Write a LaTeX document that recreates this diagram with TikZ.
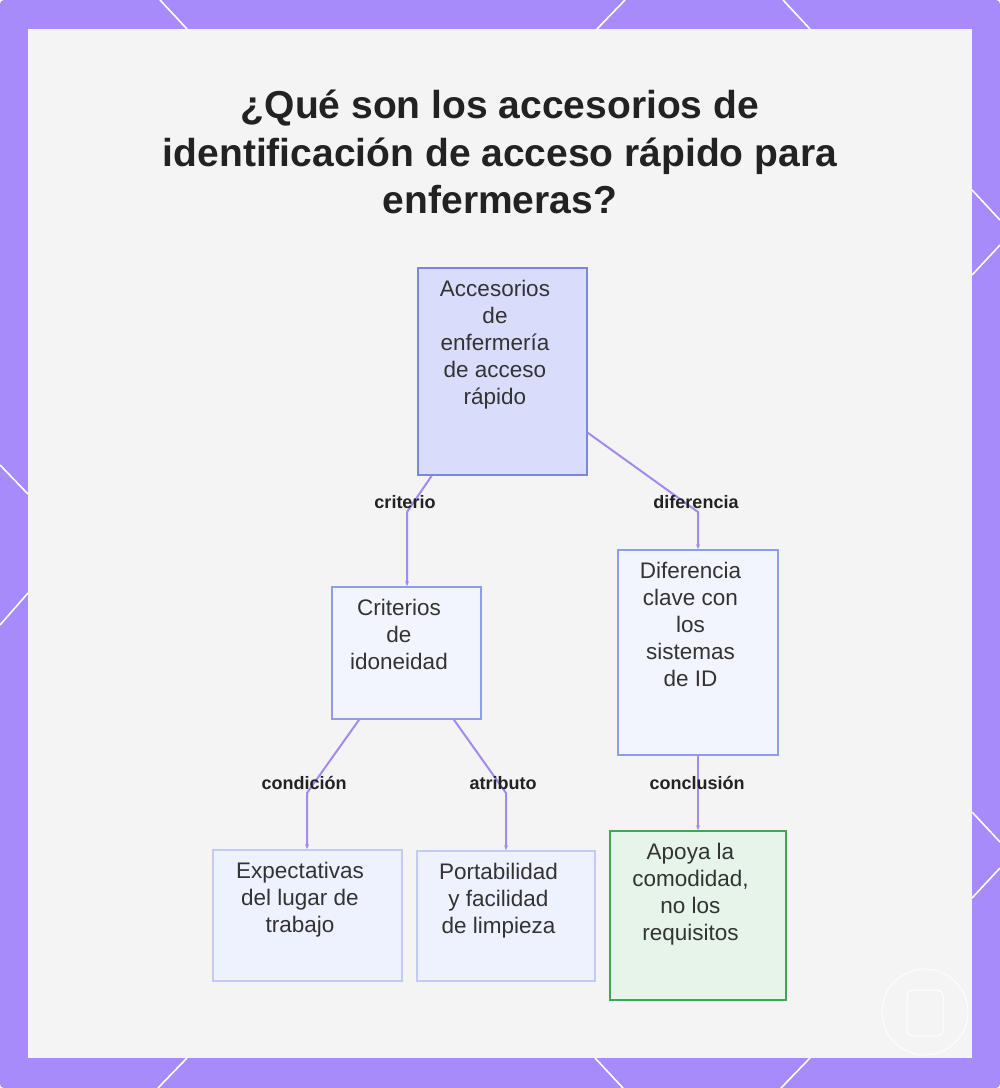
\documentclass[tikz,border=0pt]{standalone}
\usepackage{fontspec}
\setmainfont{Liberation Sans}
\usepackage{xcolor}
\usetikzlibrary{arrows.meta,positioning}

\definecolor{framepurple}{HTML}{A78BFA}
\definecolor{panelgray}{HTML}{F4F4F5}
\definecolor{linkpurple}{HTML}{A38AF0}
\definecolor{inktext}{HTML}{333333}
\definecolor{inkhead}{HTML}{222222}
\definecolor{rootfill}{HTML}{D9DCFB}
\definecolor{rootedge}{HTML}{7C87DA}
\definecolor{midfill}{HTML}{F3F5FE}
\definecolor{midedge}{HTML}{8E9DE8}
\definecolor{leaffill}{HTML}{EEF1FE}
\definecolor{leafedge}{HTML}{C3CBF5}
\definecolor{endfill}{HTML}{E6F4E9}
\definecolor{endedge}{HTML}{3DA94D}

% text block of a box: width, height, lines
\newcommand{\cell}[3]{\parbox[c][#2pt][t]{#1pt}{\centering\rightskip=15pt plus 1fil\relax
  \vspace*{10pt}\strut #3}}

\begin{document}
\begin{tikzpicture}[x=1pt, y=-1pt,
    box/.style={draw, rectangle, line width=1.6pt, inner sep=0pt, text=inktext,
        font=\fontsize{22.5}{27}\selectfont},
    rootbox/.style={box, draw=rootedge, fill=rootfill},
    midbox/.style={box, draw=midedge, fill=midfill},
    leafbox/.style={box, draw=leafedge, fill=leaffill},
    endbox/.style={box, draw=endedge, fill=endfill},
    link/.style={draw=linkpurple, line width=2pt, -{Stealth[length=5pt,width=4pt]}},
    edgelabel/.style={text=inkhead, font=\fontsize{18}{20}\selectfont\bfseries, inner sep=1pt},
    deco/.style={draw=white, line width=1.6pt}]
    \useasboundingbox (0,0) rectangle (1000,1088);

    % frame and panel
    \fill[framepurple, rounded corners=4pt] (0,0) rectangle (1000,1088);
    \fill[panelgray] (28,29) rectangle (972,1058);
    \draw[deco] (160,0) -- (187,29) (625,0) -- (597,29) (783,0) -- (810,29);
    \draw[deco] (187,1058) -- (158,1088) (595,1058) -- (623,1088) (810,1058) -- (781,1088);
    \draw[deco] (0,465) -- (28,494) (28,593) -- (0,625);
    \draw[deco] (972,190) -- (1000,220) (1000,245) -- (972,275);
    \draw[deco] (972,812) -- (1000,842) (1000,868) -- (972,898);

    % faint mark, bottom right
    \draw[white, line width=0.8pt] (925,1012) circle (43);
    \draw[white, line width=1pt, rounded corners=6pt] (907,990) rectangle (943,1036);

    % title
    \node[text=inkhead, align=center, font=\fontsize{39}{47.5}\selectfont\bfseries]
        (title) at (500,152) {¿Qué son los accesorios de\\identificación de acceso rápido para\\enfermeras?};

    % boxes
    \node[rootbox] (root) at (502.5,371.5) {\cell{169}{207}{Accesorios\\de\\enfermería\\de acceso\\rápido}};
    \node[midbox] (crit) at (406.5,653) {\cell{149}{132}{Criterios\\de\\idoneidad}};
    \node[midbox] (dif) at (698,652.5) {\cell{160}{205}{Diferencia\\clave con\\los\\sistemas\\de ID}};
    \node[leafbox] (expect) at (307.5,915.5) {\cell{189}{131}{Expectativas\\del lugar de\\trabajo}};
    \node[leafbox] (porta) at (506,916) {\cell{178}{130}{Portabilidad\\y facilidad\\de limpieza}};
    \node[endbox] (apoya) at (698,915.5) {\cell{176}{169}{Apoya la\\comodidad,\\no los\\requisitos}};

    % bends
    \coordinate (kcrit) at (407,512);
    \coordinate (kdif) at (698,512);
    \coordinate (kcond) at (307,793);
    \coordinate (kattr) at (506,793);

    % connectors
    \draw[link] (root) -- (kcrit) -- (kcrit |- crit.north);
    \draw[link] (root) -- (kdif) -- (kdif |- dif.north);
    \draw[link] (crit) -- (kcond) -- (kcond |- expect.north);
    \draw[link] (crit) -- (kattr) -- (kattr |- porta.north);
    \draw[link] (dif) -- (apoya);

    % connector labels
    \node[edgelabel] (lcrit) at (405,502) {criterio};
    \node[edgelabel] (ldif) at (696,502) {diferencia};
    \node[edgelabel] (lcond) at (304,783) {condición};
    \node[edgelabel] (lattr) at (503,783) {atributo};
    \node[edgelabel] (lconc) at (697,783) {conclusión};
\end{tikzpicture}
\end{document}
